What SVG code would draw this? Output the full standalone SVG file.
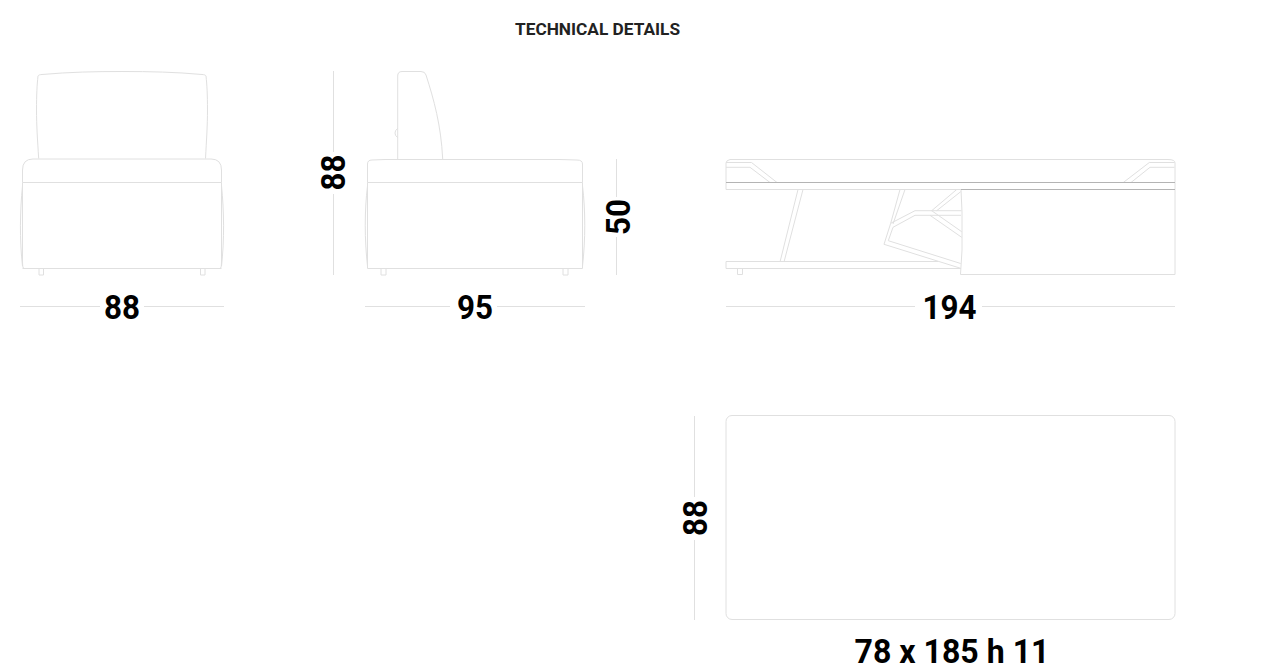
<svg xmlns="http://www.w3.org/2000/svg" width="1280" height="672" viewBox="0 0 1280 672">
<style>
.l{fill:none;stroke:#e0e0e0;stroke-width:1}
.d{fill:none;stroke:#b4b4b4;stroke-width:1}
.t{font-family:"Roboto","Liberation Sans",sans-serif;font-weight:700;font-size:34px;fill:#000;text-anchor:middle}
.h{font-family:"Roboto","Liberation Sans",sans-serif;font-weight:700;font-size:17px;fill:#222;text-anchor:middle}
</style>
<rect width="1280" height="672" fill="#fff"/>
<text class="h" x="597.5" y="34.500" textLength="165" lengthAdjust="spacingAndGlyphs">TECHNICAL DETAILS</text>
<g id="front-view" class="l">
<path d="M38.7 158.5C37.5 140 36.5 125 36.5 110C36.5 95 37 85 38 76C38.5 75 40 74.5 42 74.5C70 72 95 71.5 122 71.5C150 71.5 175 72 202 74.5C204 74.5 205.5 75 206 76C207 85 207.5 95 207.5 110C207.5 125 206.5 140 205.5 158.5"/>
<path d="M22.5 182.5V170Q22.5 159 33 159H211Q221.5 159 221.5 170V182.5"/>
<path d="M22.5 182.5H221.5M22.5 268.5H221.5"/>
<path d="M22.5 182.5V262Q22.5 268.5 24 268.5M221.5 182.5V262Q221.5 268.5 220 268.5"/>
<path d="M22.5 186C20 210 19.5 240 22.5 266M221.5 186C224 210 224.5 240 221.5 266"/>
<path d="M39 268.5V275H43.5V268.5M200.5 268.5V275H205V268.5"/>
</g>
<g id="side-view" class="l">
<path d="M397.7 159V76Q397.7 71.5 402 71.5H421Q425 71.5 426 75C434 100 441 125 442.7 159"/>
<path d="M397.7 128.5Q395 130 395 133T397.7 137.5"/>
<path d="M367.5 182.5V164Q367.5 160 372 160L385 159.5H560L577 160Q582.5 160 582.5 164V182.5"/>
<path d="M367.5 182.5H582.5M367.5 268.5H582.5M367.5 182.5V268.5M582.5 182.5V268.5"/>
<path d="M367.5 186C364.5 210 364.5 240 367.5 266M582.5 186C585.5 210 585.5 240 582.5 266"/>
<path d="M381 268.5V275H386V268.5M563 268.5V275H568V268.5"/>
</g>
<g id="open-view">
<g class="l">
<path d="M726 182.5V163Q726 160.500 730 159.500H1168Q1175 159.500 1175 163V182.5"/>
<path d="M726 162.500H751.500L777 182.500M726 167.300H750L770 182.500"/>
<path d="M1174.500 162.500H1149.300L1123.300 182.500M1174.500 167.300H1150L1131 182.500"/>
<path d="M726 182.500V189.500H961M1175 182.500V189.500"/>
<path d="M798 189.500L780 262M803 189.500L784 262"/>
<path d="M726 261.500V268.500H961M726 261.500H938"/>
<path d="M737.500 268.500V274.500H742.500V268.500"/>
<path d="M900 189.500L890.700 223.300M905 189.500L893 224"/>
<path d="M890.700 223.300L915 210.700H961.500M893 227.300L915 215.300H961"/>
<path d="M884 244.300L890.700 223.300M888.300 240.700L893 227.300"/>
<path d="M884 244.300L960.700 268.300M888.300 240.700L960.700 263.500"/>
<path d="M931.700 210.700L956.700 189.500M936.700 210.700L960.700 191.700"/>
<path d="M931.700 210.700L961.700 231.700M930 215.300L961.700 237.300"/>
<path d="M961 189.500L962 212V250L960.500 274.500H1175V189.500"/>
</g>
<path class="d" d="M726 182.500H1175M961 189.500H1175"/>
</g>
<rect id="top-view" class="l" x="726" y="415.500" width="449" height="204" rx="6"/>
<g id="dimension-lines" class="l">
<path d="M20 306.500H100M144 306.500H224"/>
<path d="M365 306.500H450M497 306.500H585"/>
<path d="M726 306.500H915M982 306.500H1175"/>
<path d="M333.500 71V152M333.500 194V275"/>
<path d="M616.500 159V197M616.500 237V275"/>
<path d="M694.500 416V497M694.500 540V620"/>
</g>
<g id="labels">
<text class="t" x="122" y="319" textLength="36" lengthAdjust="spacingAndGlyphs">88</text>
<text class="t" x="475" y="319" textLength="36" lengthAdjust="spacingAndGlyphs">95</text>
<text class="t" x="949.500" y="319" textLength="54" lengthAdjust="spacingAndGlyphs">194</text>
<text class="t" x="952" y="663" textLength="195" lengthAdjust="spacingAndGlyphs">78 x 185 h 11</text>
<text class="t" transform="translate(345 172.500) rotate(-90)" textLength="36" lengthAdjust="spacingAndGlyphs">88</text>
<text class="t" transform="translate(629.500 217) rotate(-90)" textLength="36" lengthAdjust="spacingAndGlyphs">50</text>
<text class="t" transform="translate(707 518) rotate(-90)" textLength="36" lengthAdjust="spacingAndGlyphs">88</text>
</g>
</svg>
